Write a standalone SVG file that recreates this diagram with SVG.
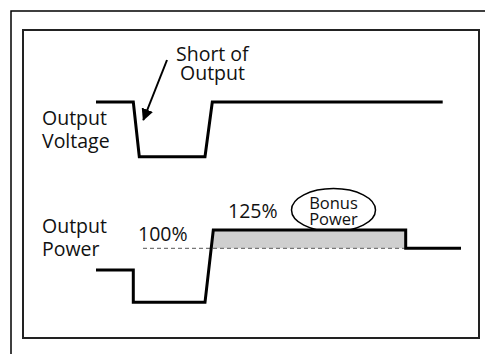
<svg xmlns="http://www.w3.org/2000/svg" width="485" height="354" viewBox="0 0 485 354">
<defs>
<style>
text{font-family:"Open Sans","DejaVu Sans",sans-serif;fill:#111}
.lbl{font-size:19.5px}
.sm{font-size:16.5px}
.wave{fill:none;stroke:#000;stroke-width:3;stroke-linejoin:miter}
.frame{fill:none;stroke:#000;stroke-width:1.5}
</style>
<marker id="ah" markerWidth="12" markerHeight="12" refX="11" refY="6" orient="auto" markerUnits="userSpaceOnUse" viewBox="0 0 12 12">
<path d="M0,0 L12,6 L0,12 z" fill="#000"/>
</marker>
</defs>
<rect width="485" height="354" fill="#fff"/>
<g id="outer-frame">
<path class="frame" d="M11,354 V11 H485"/>
</g>
<g id="panel">
<rect x="23" y="30" width="456" height="308" fill="none" stroke="#222" stroke-width="2"/>
</g>
<g id="voltage-label"><text class="lbl" x="42" y="125">Output</text><text class="lbl" x="42" y="148">Voltage</text></g>
<g id="short-label"><text class="lbl" x="176" y="61">Short of</text><text class="lbl" x="180" y="80">Output</text></g>
<g id="power-label"><text class="lbl" x="42" y="233">Output</text><text class="lbl" x="42" y="256">Power</text></g>
<g id="pct100"><text class="lbl" x="138" y="241">100%</text></g>
<g id="pct125"><text class="lbl" x="228" y="218">125%</text></g>
<g id="bonus">
<ellipse cx="333.5" cy="210" rx="42" ry="21.5" fill="#fff" stroke="#000" stroke-width="1.5"/>
<text class="sm" x="333.5" y="209" text-anchor="middle">Bonus</text>
<text class="sm" x="333.5" y="225" text-anchor="middle">Power</text>
</g>
<g id="bonus-area">
<polygon points="210.5,248.3 213.3,230 405.7,230 405.7,248.3" fill="#cfcfcf"/>
</g>
<g id="connectors">
<line x1="143" y1="248.3" x2="405.7" y2="248.3" stroke="#777" stroke-width="1.2" stroke-dasharray="4,3"/>
<path class="wave" d="M96,102 H133.3 L139.3,156.7 H205 L212.3,102 H442.7"/>
<path class="wave" d="M96,270 H133.3 V302.3 H205 L213.3,230 H405.7 V248.3 H461"/>
<line x1="167" y1="60" x2="143.3" y2="120" stroke="#000" stroke-width="2" marker-end="url(#ah)"/>
</g>
</svg>
